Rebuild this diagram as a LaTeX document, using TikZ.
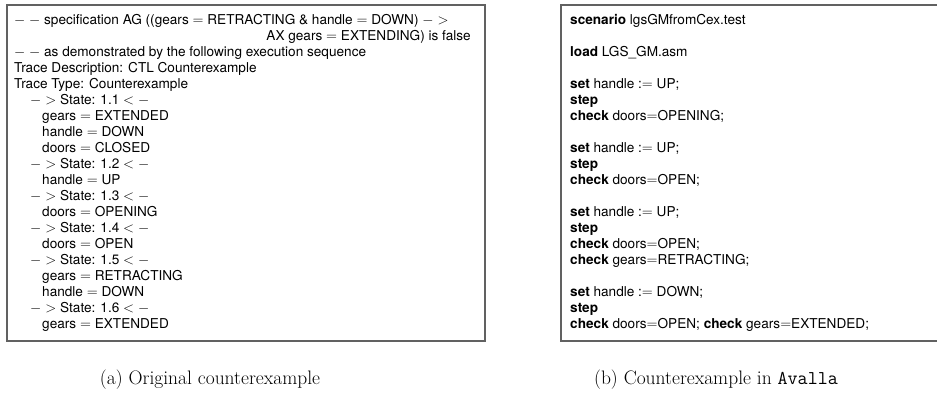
\documentclass[tikz,border=0pt]{standalone}
\usepackage{fontspec}
\newfontfamily\helv{TeX Gyre Heros}
\tikzset{
  boxframe/.style={draw=black!62, line width=1.3pt, inner sep=0pt},
  ln/.style={inner sep=0pt, anchor=base west, font=\helv\fontsize{13.6}{16}\selectfont},
  lnr/.style={ln, anchor=base east},
  capt/.style={inner sep=0pt, anchor=base, font=\fontsize{19.5}{23}\selectfont}
}
\begin{document}
\begin{tikzpicture}[x=1pt,y=-1pt]
\useasboundingbox (0,0) rectangle (937,400);
\clip (0,0) rectangle (937,400);
% frames
\node[boxframe, minimum width=478pt, minimum height=336pt] (boxA) at (246,173) {};
\node[boxframe, minimum width=384pt, minimum height=336pt] (boxB) at (753,173) {};
% left text
\node[ln] (L1) at (14,24) {$-$ $-$ specification AG ((gears $=$ RETRACTING \& handle $=$ DOWN) $->$};
\node[lnr] (L2) at (471,40) {AX gears $=$ EXTENDING) is false};
\node[ln] (L3) at (14,56) {$-$ $-$ as demonstrated by the following execution sequence};
\node[ln] (L4) at (14,72) {Trace Description: CTL Counterexample};
\node[ln] (L5) at (14,88) {Trace Type: Counterexample};
\node[ln] (L6) at (30,104) {$->$ State: 1.1 $<-$};
\node[ln] (L7) at (42,120) {gears $=$ EXTENDED};
\node[ln] (L8) at (42,136) {handle $=$ DOWN};
\node[ln] (L9) at (42,152) {doors $=$ CLOSED};
\node[ln] (L10) at (30,168) {$->$ State: 1.2 $<-$};
\node[ln] (L11) at (42,184) {handle $=$ UP};
\node[ln] (L12) at (30,200) {$->$ State: 1.3 $<-$};
\node[ln] (L13) at (42,216) {doors $=$ OPENING};
\node[ln] (L14) at (30,232) {$->$ State: 1.4 $<-$};
\node[ln] (L15) at (42,248) {doors $=$ OPEN};
\node[ln] (L16) at (30,264) {$->$ State: 1.5 $<-$};
\node[ln] (L17) at (42,280) {gears $=$ RETRACTING};
\node[ln] (L18) at (42,296) {handle $=$ DOWN};
\node[ln] (L19) at (30,312) {$->$ State: 1.6 $<-$};
\node[ln] (L20) at (42,328) {gears $=$ EXTENDED};
% right text
\node[ln] (R1) at (570,24) {\textbf{scenario} lgsGMfromCex.test};
\node[ln] (R3) at (570,56) {\textbf{load} LGS\_GM.asm};
\node[ln] (R5) at (570,88) {\textbf{set} handle :$=$ UP;};
\node[ln] (R6) at (570,104) {\textbf{step}};
\node[ln] (R7) at (570,120) {\textbf{check} doors$=$OPENING;};
\node[ln] (R9) at (570,152) {\textbf{set} handle :$=$ UP;};
\node[ln] (R10) at (570,168) {\textbf{step}};
\node[ln] (R11) at (570,184) {\textbf{check} doors$=$OPEN;};
\node[ln] (R13) at (570,216) {\textbf{set} handle :$=$ UP;};
\node[ln] (R14) at (570,232) {\textbf{step}};
\node[ln] (R15) at (570,248) {\textbf{check} doors$=$OPEN;};
\node[ln] (R16) at (570,264) {\textbf{check} gears$=$RETRACTING;};
\node[ln] (R18) at (570,296) {\textbf{set} handle :$=$ DOWN;};
\node[ln] (R19) at (570,312) {\textbf{step}};
\node[ln] (R20) at (570,328) {\textbf{check} doors$=$OPEN; \textbf{check} gears$=$EXTENDED;};
% captions
\node[capt] (capA) at (210,384) {(a) Original counterexample};
\node[capt] (capB) at (716,384) {(b) Counterexample in \texttt{Avalla}};
\end{tikzpicture}
\end{document}
